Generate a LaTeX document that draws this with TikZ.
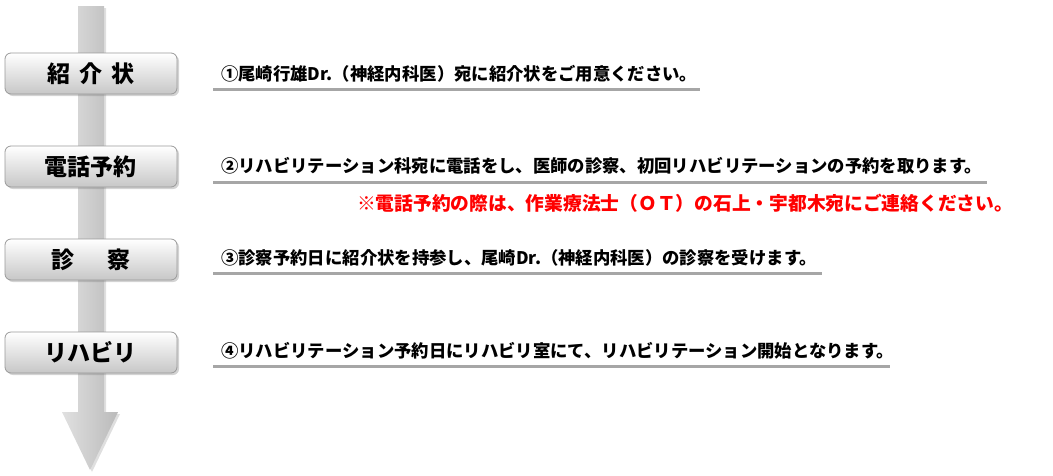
\documentclass[tikz,border=0pt]{standalone}
\usepackage{fontspec}
\setmainfont{Noto Sans CJK JP}
\usetikzlibrary{shadows}
\definecolor{lineGray}{HTML}{A6A6A6}
\definecolor{boxBorder}{HTML}{9A9A9A}
\begin{document}
\begin{tikzpicture}[x=1pt,y=-1pt,
  stepbox/.style={draw=boxBorder, line width=0.8pt, rounded corners=6pt,
    minimum width=172pt, minimum height=41pt, inner sep=0pt,
    top color=white, bottom color=black!22,
    drop shadow={shadow xshift=2pt,shadow yshift=-2pt,opacity=0.35},
    font=\bfseries\fontsize{23}{23}\selectfont},
  desc/.style={anchor=west, inner sep=0pt, font=\bfseries\fontsize{17.35}{17.35}\selectfont},
  note/.style={anchor=west, inner sep=0pt, text=red, font=\bfseries\fontsize{18.75}{18.75}\selectfont},
  uline/.style={draw=lineGray, line width=3pt}]
\useasboundingbox (0,0) rectangle (1053,475);
% main flow arrow
\path[left color=black!12, right color=black!27,
  drop shadow={shadow xshift=2pt,shadow yshift=-2pt,opacity=0.25}]
  (78,6) -- (104,6) -- (104,412) -- (118,412) -- (90,470) -- (62,412) -- (78,412) -- cycle;
% step boxes
\node[stepbox] (b1) at (91,73.5) {紹\hspace{0.4em}介\hspace{0.4em}状};
\node[stepbox] (b2) at (91,166.5) {電話予約};
\node[stepbox] (b3) at (91,259.5) {診\hspace{1.4em}察};
\node[stepbox] (b4) at (91,352.5) {リハビリ};
% descriptions
\node[desc] (t1) at (221,74) {①尾崎行雄Dr.（神経内科医）宛に紹介状をご用意ください。};
\node[desc] (t2) at (221,166) {②リハビリテーション科宛に電話をし、医師の診察、初回リハビリテーションの予約を取ります。};
\node[note] (t2n) at (357,203) {※電話予約の際は、作業療法士（ＯＴ）の石上・宇都木宛にご連絡ください。};
\node[desc] (t3) at (221,258) {③診察予約日に紹介状を持参し、尾崎Dr.（神経内科医）の診察を受けます。};
\node[desc] (t4) at (221,351) {④リハビリテーション予約日にリハビリ室にて、リハビリテーション開始となります。};
% underlines
\coordinate (u1a) at (213,89);  \coordinate (u1b) at (700,89);
\coordinate (u2a) at (213,182); \coordinate (u2b) at (987,182);
\coordinate (u3a) at (213,273); \coordinate (u3b) at (822,273);
\coordinate (u4a) at (213,366); \coordinate (u4b) at (890,366);
\draw[uline] (u1a) -- (u1b);
\draw[uline] (u2a) -- (u2b);
\draw[uline] (u3a) -- (u3b);
\draw[uline] (u4a) -- (u4b);
\end{tikzpicture}
\end{document}
